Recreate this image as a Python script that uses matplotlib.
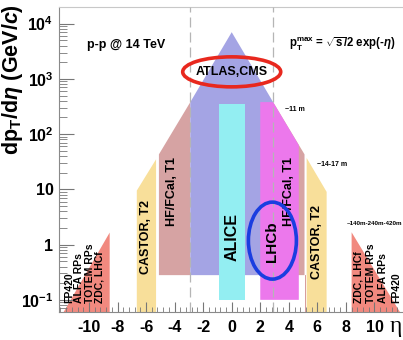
import matplotlib
matplotlib.use("Agg")
import matplotlib.pyplot as plt
from matplotlib.patches import Ellipse
from matplotlib.ticker import FixedLocator, MultipleLocator, LogLocator, NullFormatter

plt.rcParams['font.family'] = ['Liberation Sans', 'DejaVu Sans']
plt.rcParams['mathtext.fontset'] = 'custom'
plt.rcParams['mathtext.rm'] = 'Liberation Sans'
plt.rcParams['mathtext.bf'] = 'Liberation Sans:bold'
plt.rcParams['mathtext.it'] = 'Liberation Sans:italic:bold'

# ---- data (eta, pT vertices) ----
atlas_eta = [-2.9, -2.9, 0.0, 2.9, 2.9]
atlas_pt = [0.28, 380, 7000, 380, 0.28]

alice_eta = [-0.9, -0.9, 0.9, 0.9]
alice_pt = [0.1, 350, 350, 0.1]

lhcb_eta = [2.0, 2.0, 2.9, 4.7, 4.7]
lhcb_pt = [0.1, 380, 380, 63, 0.1]

hfl_eta = [-5.1, -5.1, -2.9, -2.9]
hfl_pt = [0.28, 43, 380, 0.28]
hfr_eta = [2.9, 2.9, 5.1, 5.1]
hfr_pt = [0.28, 380, 43, 0.28]

castl_eta = [-6.65, -6.65, -5.3, -5.3]
castl_pt = [0.01, 9.5, 35, 0.01]
castr_eta = [5.25, 5.25, 6.65, 6.65]
castr_pt = [0.01, 37, 9.0, 0.01]

fwdl_eta = [-12.3, -8.55, -8.55]
fwdl_pt = [0.035, 1.65, 0.01]
fwdr_eta = [8.4, 12.2, 8.4]
fwdr_pt = [1.67, 0.04, 0.01]

ydecades = [0.1, 1, 10, 100, 1000, 10000]
ylabels = [r'$\mathbf{10^{-1}}$', '1', '10', r'$\mathbf{10^{2}}$',
           r'$\mathbf{10^{3}}$', r'$\mathbf{10^{4}}$']
xticks = [-10, -8, -6, -4, -2, 0, 2, 4, 6, 8, 10]
dashed_eta = [-2.9, 2.9]

fwd_labels = ['FP420', 'ALFA RPs', 'TOTEM RPs', 'ZDC, LHCf']
fwdl_x = [-11.37, -10.67, -9.9, -9.25]
fwdr_x = [11.5, 10.6, 9.75, 8.9]

# ---- figure ----
fig = plt.figure(figsize=(4.03, 3.40), dpi=100)
ax = fig.add_axes([59 / 403, 28.3 / 340, 344 / 403, 304.7 / 340])
ax.set_yscale('log')
ax.set_xlim(-12.1, 12.0)
ax.set_ylim(0.061, 2.0e4)

c_blue = '#a4a4e4'
c_cyan = '#93eef2'
c_mag = '#ec78ec'
c_hf = '#d6a3a3'
c_yel = '#f8df9a'
c_red = '#f1897f'

ax.fill(castl_eta, castl_pt, color=c_yel, lw=0, zorder=1)
ax.fill(castr_eta, castr_pt, color=c_yel, lw=0, zorder=1)
ax.fill(fwdl_eta, fwdl_pt, color=c_red, lw=0, zorder=1)
ax.fill(fwdr_eta, fwdr_pt, color=c_red, lw=0, zorder=1)
ax.fill(hfl_eta, hfl_pt, color=c_hf, lw=0, zorder=1)
ax.fill(hfr_eta, hfr_pt, color=c_hf, lw=0, zorder=1)
ax.fill(atlas_eta, atlas_pt, color=c_blue, lw=0, zorder=2)
ax.fill(alice_eta, alice_pt, color=c_cyan, lw=0, zorder=3)
ax.fill(lhcb_eta, lhcb_pt, color=c_mag, lw=0, zorder=3)
ax.plot([hfr_eta[-1], hfr_eta[-1]], [0.01, hfr_pt[-1]], color='#d08a8a', lw=0.6, zorder=3)

for e in dashed_eta:
    ax.axvline(e, color='#b5b5b5', lw=0.9, ls=(0, (8, 4)), zorder=4)

# ---- axes styling ----
ax.spines['right'].set_visible(False)
ax.spines['left'].set_color('#8a8a8a')
ax.spines['bottom'].set_color('#8a8a8a')
ax.spines['top'].set_color('#c8c8c8')

ax.yaxis.set_major_locator(FixedLocator(ydecades))
ax.set_yticklabels(ylabels)
ax.yaxis.set_minor_locator(LogLocator(base=10, subs=range(2, 10), numticks=20))
ax.yaxis.set_minor_formatter(NullFormatter())
ax.set_xticks(xticks)
ax.set_xticklabels([str(v) for v in xticks])
ax.xaxis.set_minor_locator(MultipleLocator(0.4))
ax.tick_params(axis='y', which='major', direction='in', length=11, width=0.8,
               color='#777777', labelsize=11.5, pad=4)
ax.tick_params(axis='y', which='minor', direction='in', length=6, width=0.6, color='#777777')
ax.tick_params(axis='x', which='major', direction='in', length=7, width=0.8,
               color='#777777', labelsize=11.5, pad=6)
ax.tick_params(axis='x', which='minor', direction='in', length=3.5, width=0.6, color='#777777')
for lab in ax.get_xticklabels() + ax.get_yticklabels():
    lab.set_fontweight('bold')

ax.set_ylabel(r'$\mathbf{dp_{T}/d}\eta\ \mathbf{(GeV/}c\mathbf{)}$', fontsize=15.5, loc='top')
ax.yaxis.set_label_coords(-0.098, 1.01)
ax.text(0.978, -0.05, 'η', transform=ax.transAxes, fontsize=17,
        family='Liberation Serif', ha='center', va='center')

# ---- text labels ----
ax.text(-10.14, 4150, 'p-p @ 14 TeV', fontsize=9, fontweight='bold', ha='left', va='center')
ax.text(4.0, 4150, r'$\mathbf{p_T^{max}}$ = $\sqrt{\mathbf{s}}$/2 exp(-$\eta$)',
        fontsize=8.3, fontweight='bold', ha='left', va='center')

ax.text(0.0, 1340, 'ATLAS,CMS', fontsize=9, fontweight='bold', ha='center', va='center', zorder=6)
ax.text(0.0, 1.35, 'ALICE', fontsize=11.5, fontweight='bold', rotation=90,
        ha='center', va='center', zorder=6)
ax.text(2.85, 1.15, 'LHCb', fontsize=11, fontweight='bold', rotation=90,
        ha='center', va='center', zorder=6)
ax.text(-4.2, 9.0, 'HF/FCal, T1', fontsize=9, fontweight='bold', rotation=90,
        ha='center', va='center', zorder=6)
ax.text(4.0, 9.0, 'HF/FCal, T1', fontsize=9, fontweight='bold', rotation=90,
        ha='center', va='center', zorder=6)
ax.text(-6.0, 1.35, 'CASTOR, T2', fontsize=9, fontweight='bold', rotation=90,
        ha='center', va='center', zorder=6)
ax.text(5.95, 1.1, 'CASTOR, T2', fontsize=9, fontweight='bold', rotation=90,
        ha='center', va='center', zorder=6)

for xl, s in zip(fwdl_x, fwd_labels):
    ax.text(xl, 0.088, s, fontsize=7.5, fontweight='bold', rotation=90,
            ha='center', va='bottom', zorder=6)
for xr, s in zip(fwdr_x, fwd_labels):
    ax.text(xr, 0.088, s, fontsize=7.5, fontweight='bold', rotation=90,
            ha='center', va='bottom', zorder=6)

ax.text(3.72, 275, '~11 m', fontsize=5, fontweight='bold', ha='left', va='center')
ax.text(5.94, 28, '~14-17 m', fontsize=5, fontweight='bold', ha='left', va='center')
ax.text(8.05, 2.4, '~140m-240m-420m', fontsize=4.5, fontweight='bold', ha='left', va='center')

# ---- ellipses (pixel-shaped, centred at data points) ----
to_axes = ax.transData + ax.transAxes.inverted()
cx, cy = to_axes.transform((0.0, 1340))
ax.add_patch(Ellipse((cx, cy), 98 / 344, 30 / 304.7, transform=ax.transAxes,
                     fill=False, ec='#e8281e', lw=2.6, zorder=7))
cx, cy = to_axes.transform((2.85, 1.18))
ax.add_patch(Ellipse((cx, cy), 48 / 344, 77 / 304.7, transform=ax.transAxes,
                     fill=False, ec='#1a3ee0', lw=2.6, zorder=7))

fig.savefig('out.png', dpi=100)
